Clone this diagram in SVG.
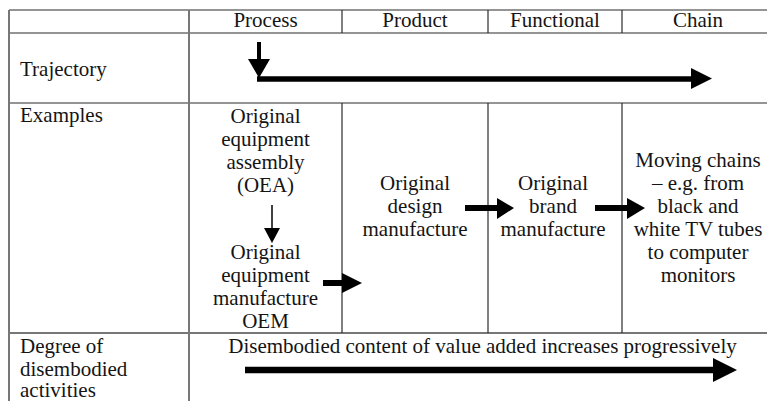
<svg xmlns="http://www.w3.org/2000/svg" width="767" height="401" viewBox="0 0 767 401">
  <style>
    .bg { fill: #ffffff; }
    .grid { stroke: #2a2a2a; stroke-width: 1.2; fill: none; }
    .grid-soft { stroke: #777777; stroke-width: 2; fill: none; }
    .t { font-size: 21px; fill: #141414; }
    .c { text-anchor: middle; }
    .shaft { stroke: #000000; fill: none; }
    .head { fill: #000000; stroke: none; }
  </style>

  <rect class="bg" x="0" y="0" width="767" height="401"/>

  <!-- table rules -->
  <g id="grid">
    <line class="grid" x1="9" y1="10" x2="767" y2="10"/>
    <line class="grid" x1="9" y1="33" x2="767" y2="33"/>
    <line class="grid" x1="9" y1="103" x2="767" y2="103"/>
    <line class="grid-soft" x1="9" y1="333" x2="767" y2="333"/>
    <line class="grid-soft" x1="9" y1="10" x2="9" y2="401"/>
    <line class="grid-soft" x1="189" y1="10" x2="189" y2="401"/>
    <line class="grid" x1="342" y1="10" x2="342" y2="33"/>
    <line class="grid" x1="488" y1="10" x2="488" y2="33"/>
    <line class="grid" x1="622" y1="10" x2="622" y2="33"/>
    <line class="grid" x1="342" y1="103" x2="342" y2="333"/>
    <line class="grid" x1="488" y1="103" x2="488" y2="333"/>
    <line class="grid" x1="622" y1="103" x2="622" y2="333"/>
  </g>

  <g id="labels" font-family="Liberation Serif">
  <!-- column headings -->
  <g id="head-process"><text class="t c" x="265.5" y="27" style="font-family: Liberation Serif">Process</text></g>
  <g id="head-product"><text class="t c" x="415" y="27" style="font-family: Liberation Serif">Product</text></g>
  <g id="head-functional"><text class="t c" x="555" y="27" style="font-family: Liberation Serif">Functional</text></g>
  <g id="head-chain"><text class="t c" x="698" y="27" style="font-family: Liberation Serif">Chain</text></g>

  <!-- row headings -->
  <g id="row-trajectory"><text class="t" x="20" y="76" style="font-family: Liberation Serif">Trajectory</text></g>
  <g id="row-examples"><text class="t" x="20" y="122" style="font-family: Liberation Serif">Examples</text></g>
  <g id="row-degree">
    <text class="t" x="20" y="353" style="font-family: Liberation Serif">Degree of</text>
    <text class="t" x="20" y="375.5" style="font-family: Liberation Serif">disembodied</text>
    <text class="t" x="20" y="397" style="font-family: Liberation Serif">activities</text>
  </g>

  <!-- example cells -->
  <g id="oea">
    <text class="t c" x="265.5" y="123" style="font-family: Liberation Serif">Original</text>
    <text class="t c" x="265.5" y="146" style="font-family: Liberation Serif">equipment</text>
    <text class="t c" x="265.5" y="169" style="font-family: Liberation Serif">assembly</text>
    <text class="t c" x="265.5" y="192" style="font-family: Liberation Serif">(OEA)</text>
  </g>
  <g id="oem">
    <text class="t c" x="265.5" y="259" style="font-family: Liberation Serif">Original</text>
    <text class="t c" x="265.5" y="282" style="font-family: Liberation Serif">equipment</text>
    <text class="t c" x="265.5" y="305" style="font-family: Liberation Serif">manufacture</text>
    <text class="t c" x="265.5" y="328" style="font-family: Liberation Serif">OEM</text>
  </g>
  <g id="odm">
    <text class="t c" x="415" y="190" style="font-family: Liberation Serif">Original</text>
    <text class="t c" x="415" y="213" style="font-family: Liberation Serif">design</text>
    <text class="t c" x="415" y="236" style="font-family: Liberation Serif">manufacture</text>
  </g>
  <g id="obm">
    <text class="t c" x="553" y="190" style="font-family: Liberation Serif">Original</text>
    <text class="t c" x="553" y="213" style="font-family: Liberation Serif">brand</text>
    <text class="t c" x="553" y="236" style="font-family: Liberation Serif">manufacture</text>
  </g>
  <g id="chain">
    <text class="t c" x="698" y="167" style="font-family: Liberation Serif">Moving chains</text>
    <text class="t c" x="698" y="190" style="font-family: Liberation Serif">– e.g. from</text>
    <text class="t c" x="698" y="213" style="font-family: Liberation Serif">black and</text>
    <text class="t c" x="698" y="236" style="font-family: Liberation Serif">white TV tubes</text>
    <text class="t c" x="698" y="259" style="font-family: Liberation Serif">to computer</text>
    <text class="t c" x="698" y="282" style="font-family: Liberation Serif">monitors</text>
  </g>
  <g id="disembodied">
    <text class="t c" x="482.5" y="353" style="font-family: Liberation Serif">Disembodied content of value added increases progressively</text>
  </g>
  </g>

  <!-- connectors -->
  <g id="connectors">
    <!-- trajectory: down then right -->
    <line class="shaft" x1="259" y1="42" x2="259" y2="60" stroke-width="4"/>
    <polygon class="head" points="248,59 270,59 259,78"/>
    <line class="shaft" x1="257" y1="79" x2="693" y2="79" stroke-width="5.5"/>
    <polygon class="head" points="691,68 712,78.5 691,89"/>

    <!-- OEA to OEM -->
    <line class="shaft" x1="272" y1="205" x2="272" y2="229" stroke-width="1.5"/>
    <polygon class="head" points="264,228 280,228 272,243"/>

    <!-- OEM to ODM -->
    <line class="shaft" x1="323" y1="283" x2="344" y2="283" stroke-width="6"/>
    <polygon class="head" points="342,273 362,283 342,293"/>

    <!-- ODM to OBM -->
    <line class="shaft" x1="465" y1="208" x2="499" y2="208" stroke-width="6"/>
    <polygon class="head" points="497,198 514,208 497,219"/>

    <!-- OBM to chain -->
    <line class="shaft" x1="595" y1="208" x2="629" y2="208" stroke-width="6"/>
    <polygon class="head" points="627,198 645,208 627,219"/>

    <!-- disembodied content arrow -->
    <line class="shaft" x1="245" y1="370" x2="715" y2="370" stroke-width="6.5"/>
    <polygon class="head" points="713,358 737,370 713,382"/>
  </g>
</svg>
